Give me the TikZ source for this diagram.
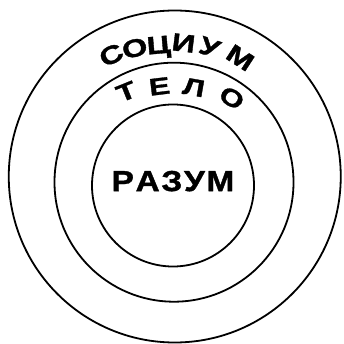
\documentclass[tikz,border=0pt]{standalone}
\usepackage{graphicx}
\usepackage{fontspec}
\setmainfont{Liberation Sans}
\newfontfamily\wafont[FakeBold=1.2]{Liberation Sans Bold}
\newcommand{\wide}[2][1.3]{\scalebox{#1}[1]{#2}}
\begin{document}
\begin{tikzpicture}[x=1pt,y=-1pt,
  ring/.style={line width=1.8pt},
  lettr/.style={inner sep=0pt, text height=0.716em, text depth=0pt},
  soc/.style={lettr, font=\wafont\fontsize{25}{25}\selectfont},
  tel/.style={lettr, font=\wafont\fontsize{24}{24}\selectfont},
  raz/.style={lettr, font=\wafont\fontsize{29}{29}\selectfont}]
\useasboundingbox (0,0) rectangle (343,344);
\draw[ring] (174.75,176.5) circle (166);
\draw[ring] (174,182.2) circle (119.5);
\draw[ring] (173,185.5) circle (81);
% СОЦИУМ
\node[soc, rotate=26]  (s1) at (113.5,59.5) {\wide{С}};
\node[soc, rotate=15]  (s2) at (136,53) {\wide{О}};
\node[soc, rotate=5]   (s3) at (159,50) {\wide{Ц}};
\node[soc, rotate=-7]  (s4) at (183,48) {\wide{И}};
\node[soc, rotate=-19] (s5) at (208,52) {\wide{У}};
\node[soc, rotate=-33] (s6) at (237.5,62) {\wide{М}};
% ТЕЛО
\node[tel, rotate=22]  (t1) at (128,96)  {\wide{Т}};
\node[tel, rotate=7]   (t2) at (160,91)  {\wide{Е}};
\node[tel, rotate=-10] (t3) at (193,92)  {\wide{Л}};
\node[tel, rotate=-30] (t4) at (229.5,102) {\wide{О}};
% РАЗУМ
\node[raz] (r) at (173,187.5) {\wide[1.15]{Р\kern1.5pt А\kern1.5pt З\kern1.5pt У\kern1.5pt М}};
\end{tikzpicture}
\end{document}
